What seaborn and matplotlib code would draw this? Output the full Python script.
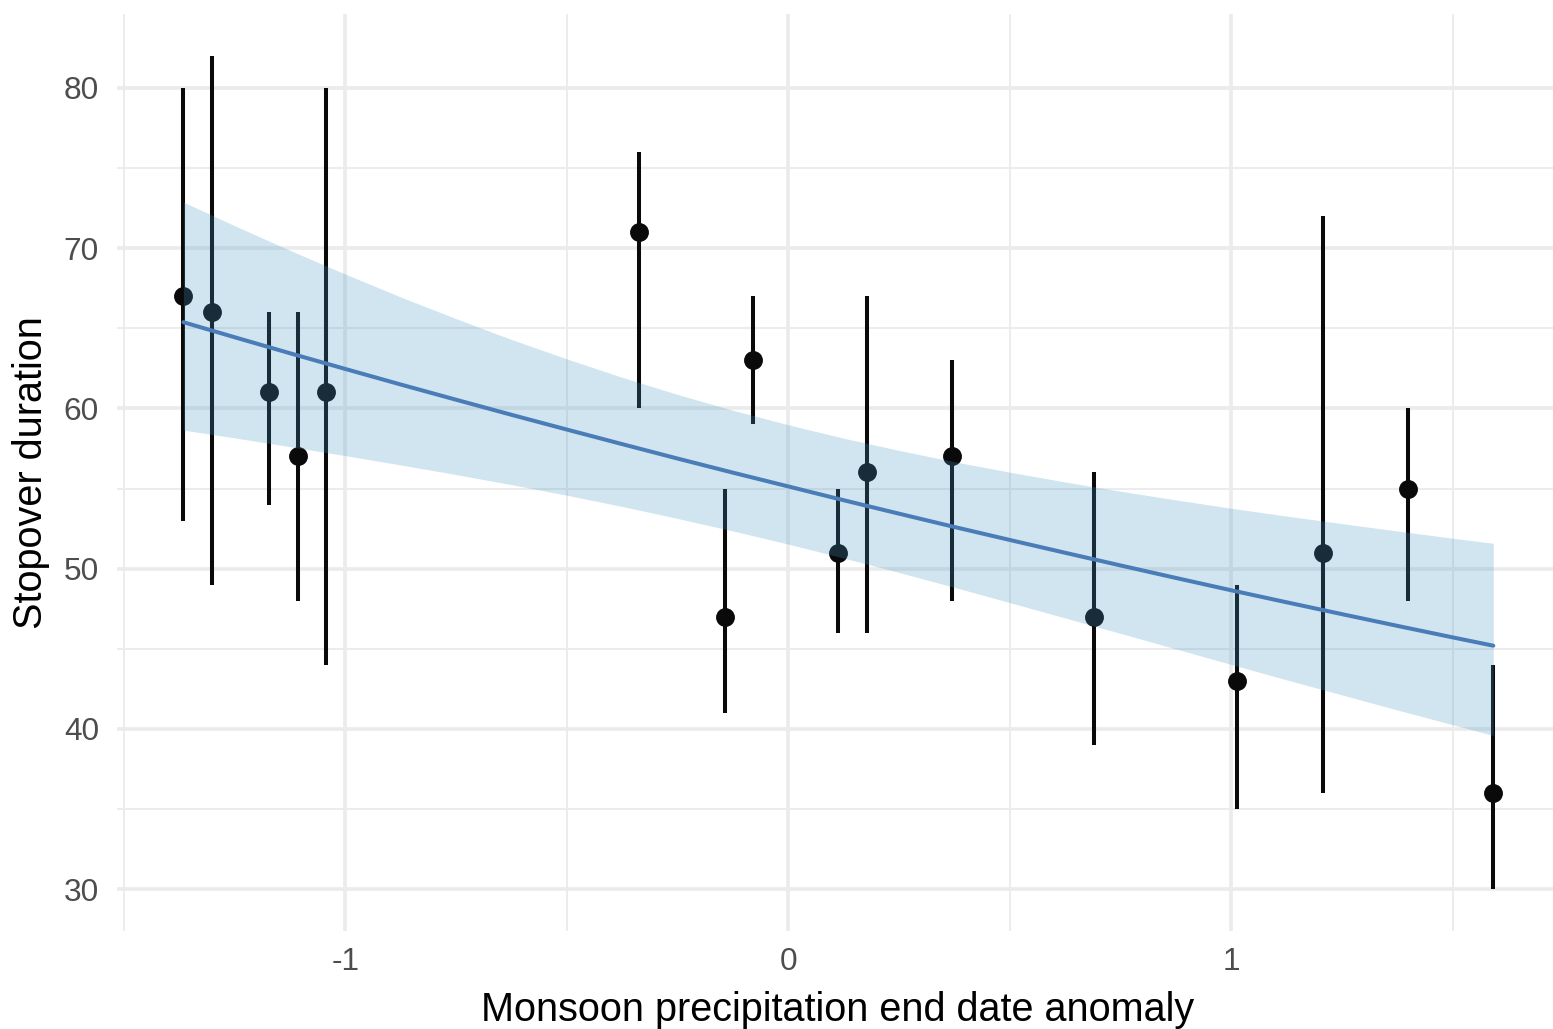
import matplotlib
matplotlib.use("Agg")
import matplotlib.pyplot as plt
import seaborn as sns
import numpy as np
import pandas as pd

# ---- data ----
x_anomaly = [-1.366, -1.301, -1.173, -1.108, -1.044, -0.337, -0.144, -0.080,
             0.112, 0.178, 0.370, 0.691, 1.013, 1.207, 1.399, 1.592]
duration = [67, 66, 61, 57, 61, 71, 47, 63, 51, 56, 57, 47, 43, 51, 55, 36]
dur_low = [53, 49, 54, 48, 44, 60, 41, 59, 46, 46, 48, 39, 35, 36, 48, 30]
dur_high = [80, 82, 66, 66, 80, 76, 55, 67, 55, 67, 63, 56, 49, 72, 60, 44]

fit_x = [-1.366, -1.25, -1.125, -1.0, -0.875, -0.75, -0.625, -0.5, -0.375,
         -0.25, -0.125, 0.0, 0.125, 0.25, 0.375, 0.5, 0.625, 0.75, 0.875,
         1.0, 1.125, 1.25, 1.375, 1.5, 1.592]
fit_y = [65.38, 64.44, 63.44, 62.46, 61.49, 60.54, 59.60, 58.68, 57.77,
         56.87, 55.99, 55.13, 54.27, 53.43, 52.60, 51.79, 50.99, 50.20, 49.42,
         48.65, 47.90, 47.16, 46.43, 45.71, 45.19]
fit_low = [58.65, 58.16, 57.61, 57.05, 56.47, 55.87, 55.24, 54.58, 53.88,
           53.13, 52.35, 51.53, 50.66, 49.76, 48.83, 47.88, 46.92, 45.96, 44.99,
           44.02, 43.06, 42.12, 41.18, 40.26, 39.59]
fit_high = [72.88, 71.40, 69.86, 68.38, 66.95, 65.60, 64.30, 63.09, 61.94,
            60.87, 59.88, 58.98, 58.14, 57.38, 56.67, 56.02, 55.41, 54.83, 54.29,
            53.77, 53.28, 52.81, 52.35, 51.90, 51.58]

x_major = [-1, 0, 1]
x_minor = [-1.5, -0.5, 0.5, 1.5]
y_major = [30, 40, 50, 60, 70, 80]
y_minor = [35, 45, 55, 65, 75]

pts = pd.DataFrame({"x": x_anomaly, "y": duration, "lo": dur_low, "hi": dur_high})
fit = pd.DataFrame({"x": fit_x, "y": fit_y, "lo": fit_low, "hi": fit_high})

sns.set_theme(style="white")
plt.rcParams["font.family"] = ["Liberation Sans", "DejaVu Sans"]

W, H = 1553, 1029
fig = plt.figure(figsize=(W / 100, H / 100), dpi=100)
left_px, right_px, top_px, bottom_px = 117, 1557.5, 14.3, 930.7
ax = fig.add_axes([left_px / W, 1 - bottom_px / H,
                   (right_px - left_px) / W, (bottom_px - top_px) / H])

ax.set_xlim(-1.516, 1.737)
ax.set_ylim(27.4, 84.6)

# grid
ax.set_xticks(x_major)
ax.set_xticks(x_minor, minor=True)
ax.set_yticks(y_major)
ax.set_yticks(y_minor, minor=True)
ax.grid(which="major", color="#EBEBEB", linewidth=2.6, zorder=0)
ax.grid(which="minor", color="#EBEBEB", linewidth=1.35, zorder=0)
ax.set_axisbelow(True)
for s in ax.spines.values():
    s.set_visible(False)

# error bars and points
ax.vlines(pts["x"], pts["lo"], pts["hi"], color="#0a0a0a", linewidth=2.9, zorder=2)
sns.scatterplot(data=pts, x="x", y="y", color="#0a0a0a", s=185, linewidth=0,
                ax=ax, zorder=3, legend=False)

# ribbon and fitted line
ax.fill_between(fit["x"], fit["lo"], fit["hi"], color="#4598c6", alpha=0.25,
                linewidth=0, zorder=4)
sns.lineplot(data=fit, x="x", y="y", color="#4A7DB8", linewidth=2.9, ax=ax,
             zorder=5, legend=False)

ax.set_xticklabels(["-1", "0", "1"])
ax.set_yticklabels([str(v) for v in y_major])
ax.tick_params(axis="both", which="both", length=0, labelsize=22.8,
               labelcolor="#4D4D4D")
ax.tick_params(axis="x", pad=12)
ax.tick_params(axis="y", pad=13)

ax.set_xlabel("Monsoon precipitation end date anomaly", fontsize=28.5,
              color="black", labelpad=10)
ax.set_ylabel("Stopover duration", fontsize=28.5, color="black", labelpad=10)

fig.savefig("out.png", dpi=100)
